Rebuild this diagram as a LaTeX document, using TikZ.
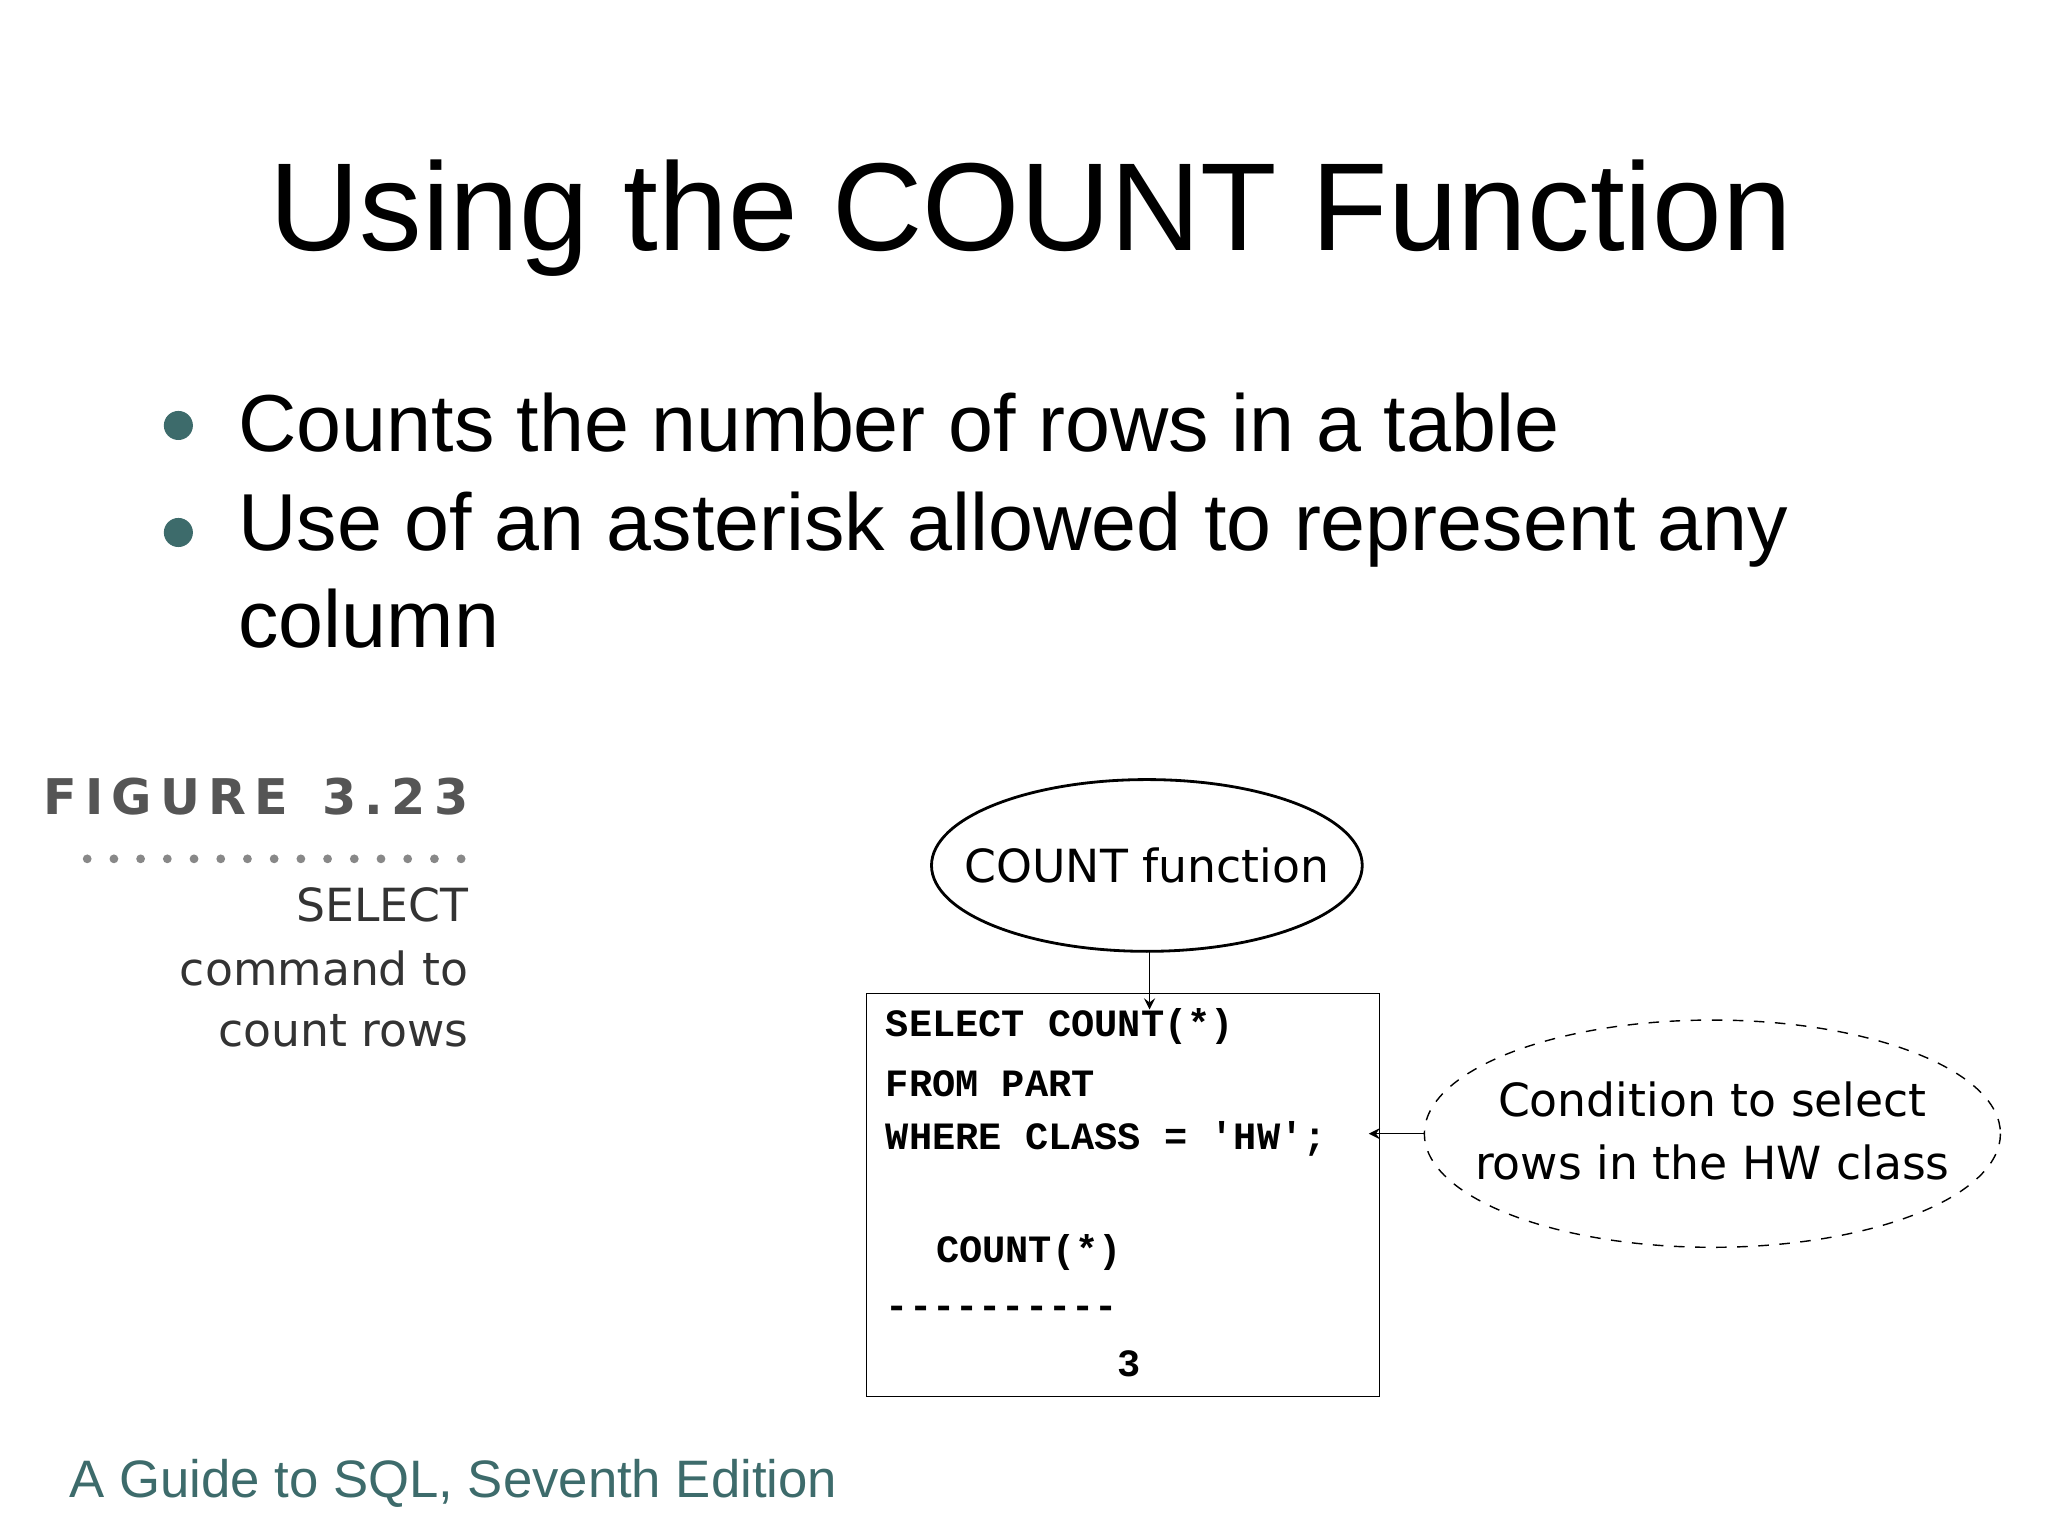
\documentclass[tikz,border=0pt]{standalone}
\usepackage{fontspec}
\setmainfont{Liberation Sans}
\newfontfamily\codefont{Liberation Mono}
\newfontfamily\figfont{DejaVu Sans}
\definecolor{teal1}{HTML}{3D6B6B}
\definecolor{figgray}{HTML}{555555}
\begin{document}
\begin{tikzpicture}[x=0.01321cm,y=-0.01321cm,
  code/.style={anchor=west,inner sep=0pt,font=\codefont\bfseries\fontsize{11}{13}\selectfont},
  figcap/.style={anchor=east,inner sep=0pt,font=\figfont\fontsize{13}{15}\selectfont,text=black!80},
  bul/.style={anchor=west,inner sep=0pt,font=\fontsize{23}{27}\selectfont},
  etext/.style={font=\figfont\fontsize{13}{16}\selectfont,align=center}]
\useasboundingbox (0,0) rectangle (1550,1163);
\node (title) at (780,165) {\fontsize{35.6}{40}\selectfont Using the COUNT Function};
\fill[teal1] (135,322) circle (11) coordinate (b1);
\fill[teal1] (135,403) circle (11) coordinate (b2);
\node[bul] (t1) at (180,320) {Counts the number of rows in a table};
\node[bul] (t2) at (180,401) {Use of an asterisk allowed to represent any};
\node[bul] (t3) at (180,468) {column};
\node[anchor=east,inner sep=0pt,text=figgray] (fig) at (355,603) {\figfont\bfseries\fontsize{14}{16}\selectfont F\,I\,G\,U\,R\,E\ \ 3\,.\,2\,3};
\draw[figgray!70,line width=2.5pt,dash pattern=on 0pt off 7.6pt,line cap=round] (66,650) -- (355,650);
\node[figcap] (c1) at (355,685) {SELECT};
\node[figcap] (c2) at (355,733) {command to};
\node[figcap] (c3) at (355,780) {count rows};
\draw[thick] (868,655) ellipse [x radius=163,y radius=65];
\node[etext] (e1) at (868,655) {COUNT function};
\draw (656,752) rectangle (1044,1057);
\coordinate (a1) at (870,720);
\coordinate (a2) at (870,764);
\draw[-stealth] (a1) -- (a2);
\node[code] (l1) at (670,777) {SELECT COUNT(*)};
\node[code] (l2) at (670,820) {FROM PART};
\node[code] (l3) at (670,862) {WHERE CLASS = 'HW';};
\node[code] (l4) at (708,948) {COUNT(*)};
\node[code] (l5) at (670,993) {----------};
\node[code] (l6) at (845,1032) {3};
\draw[dashed] (1296,858) ellipse [x radius=218,y radius=86];
\node[etext] (e2) at (1296,856) {Condition to select\\[2pt]rows in the HW class};
\coordinate (d1) at (1078,858);
\coordinate (d2) at (1036,858);
\draw[-stealth] (d1) -- (d2);
\node[anchor=west,inner sep=0pt,text=teal1] (foot) at (52,1123) {\fontsize{15}{18}\selectfont A Guide to SQL, Seventh Edition};
\end{tikzpicture}
\end{document}
